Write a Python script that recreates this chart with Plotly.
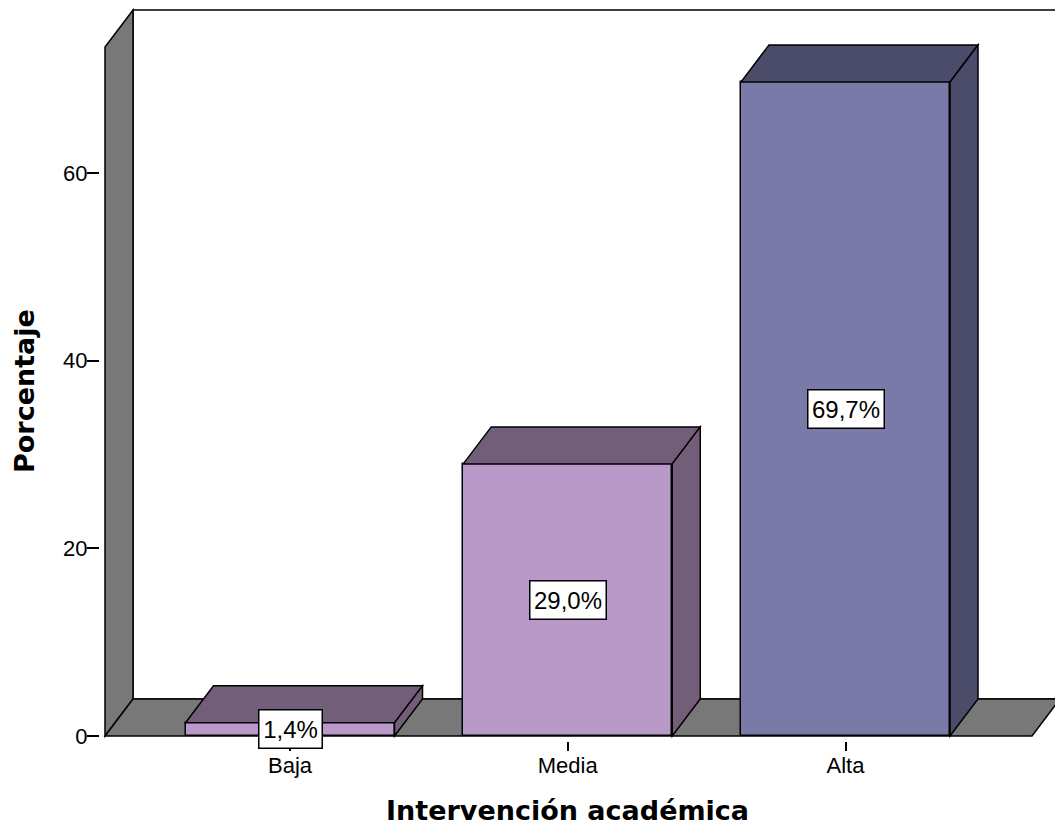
import plotly.graph_objects as go

# Data
categories = ["Baja", "Media", "Alta"]
percentages = [1.4, 29.0, 69.7]
y_ticks = [0, 20, 40, 60]

# Face colours per bar: front, top/side
front_colors = ["#b899c8", "#b899c8", "#7a7aa8"]
shade_colors = ["#735e7a", "#735e7a", "#4b4b6a"]
wall_color = "#787878"

# Geometry (in axis units): pixel scales of the plot
PX_PER_X = 277.75
PX_PER_Y = 9.383
W, H = 1055, 832
M_L, M_R, M_T, M_B = 100, 0, 8, 91
X0_PX = 290  # pixel of first category centre
Y0_PX = 736  # pixel of value 0

x_lo = (M_L - X0_PX) / PX_PER_X
x_hi = x_lo + (W - M_L - M_R) / PX_PER_X
y_lo = -((H - M_B) - Y0_PX) / PX_PER_Y
y_hi = y_lo + (H - M_T - M_B) / PX_PER_Y

half_w = 104.5 / PX_PER_X      # half bar width
dx = 28 / PX_PER_X             # depth offset x
dy = 37 / PX_PER_Y             # depth offset y
wall_x = (105 - X0_PX) / PX_PER_X
wall_back_top = (Y0_PX - 10) / PX_PER_Y
wall_front_top = wall_back_top - dy
floor_right = (1032 - X0_PX) / PX_PER_X


def path(points):
    return "M " + " L ".join(f"{px},{py}" for px, py in points) + " Z"


shapes = []
edge = dict(color="black", width=1.5)

# back wall
shapes.append(dict(type="path", layer="below", xref="x", yref="y",
                   path=path([(wall_x + dx, dy), (wall_x + dx, wall_back_top),
                              (x_hi + 0.5, wall_back_top), (x_hi + 0.5, dy)]),
                   fillcolor="white", line=edge))
# left wall
shapes.append(dict(type="path", layer="below", xref="x", yref="y",
                   path=path([(wall_x, 0), (wall_x, wall_front_top),
                              (wall_x + dx, wall_back_top), (wall_x + dx, dy)]),
                   fillcolor=wall_color, line=edge))
# floor
shapes.append(dict(type="path", layer="below", xref="x", yref="y",
                   path=path([(wall_x, 0), (floor_right, 0),
                              (floor_right + dx, dy), (wall_x + dx, dy)]),
                   fillcolor=wall_color, line=edge))

# top and side faces of each bar
for i, v in enumerate(percentages):
    xl, xr = i - half_w, i + half_w
    shapes.append(dict(type="path", layer="above", xref="x", yref="y",
                       path=path([(xl, v), (xr, v), (xr + dx, v + dy), (xl + dx, v + dy)]),
                       fillcolor=shade_colors[i], line=edge))
    shapes.append(dict(type="path", layer="above", xref="x", yref="y",
                       path=path([(xr, 0), (xr, v), (xr + dx, v + dy), (xr + dx, dy)]),
                       fillcolor=shade_colors[i], line=edge))

fig = go.Figure()
fig.add_trace(go.Bar(
    x=list(range(len(categories))),
    y=percentages,
    width=2 * half_w,
    marker=dict(color=front_colors, line=dict(color="black", width=1.5)),
    hoverinfo="skip",
    showlegend=False,
))

annotations = []
for i, v in enumerate(percentages):
    label = f"{v:.1f}".replace(".", ",") + "%"
    annotations.append(dict(
        x=i, y=v / 2, xref="x", yref="y",
        text=label,
        showarrow=False,
        font=dict(family="Liberation Sans, Arial", size=24, color="black"),
        width=13 * len(label) + 4, height=31, align="center", valign="middle",
        bgcolor="white", bordercolor="black", borderwidth=1.5, borderpad=3,
    ))

plot_h = H - M_T - M_B

# axis titles
annotations.append(dict(
    x=1, y=((H - M_B) - 810) / plot_h,
    xref="x", yref="paper", text="<b>Intervención académica</b>", showarrow=False,
    font=dict(family="DejaVu Sans", size=27, color="black"),
    xanchor="center", yanchor="middle",
))
annotations.append(dict(
    x=(24 - M_L) / (W - M_L - M_R), y=((H - M_B) - 391) / plot_h,
    xref="paper", yref="paper", text="<b>Porcentaje</b>", showarrow=False,
    textangle=-90,
    font=dict(family="DejaVu Sans", size=27, color="black"),
    xanchor="center", yanchor="middle",
))

fig.update_layout(
    width=W, height=H,
    margin=dict(l=M_L, r=M_R, t=M_T, b=M_B),
    paper_bgcolor="white", plot_bgcolor="white",
    shapes=shapes,
    annotations=annotations,
    bargap=0,
    xaxis=dict(
        range=[x_lo, x_hi],
        tickmode="array", tickvals=list(range(len(categories))), ticktext=categories,
        ticks="outside", ticklen=9, tickwidth=1.5, tickcolor="black",
        ticklabelstandoff=-4,
        showline=False, showgrid=False, zeroline=False,
        tickfont=dict(family="Liberation Sans, Arial", size=22, color="black"),
    ),
    yaxis=dict(
        range=[y_lo, y_hi],
        tickmode="array", tickvals=y_ticks, ticktext=[str(t) for t in y_ticks],
        ticks="outside", ticklen=12, tickwidth=1.5, tickcolor="black",
        ticklabelstandoff=-5,
        showline=False, showgrid=False, zeroline=False,
        tickfont=dict(family="Liberation Sans, Arial", size=22, color="black"),
    ),
)

fig.write_html("out.html")
